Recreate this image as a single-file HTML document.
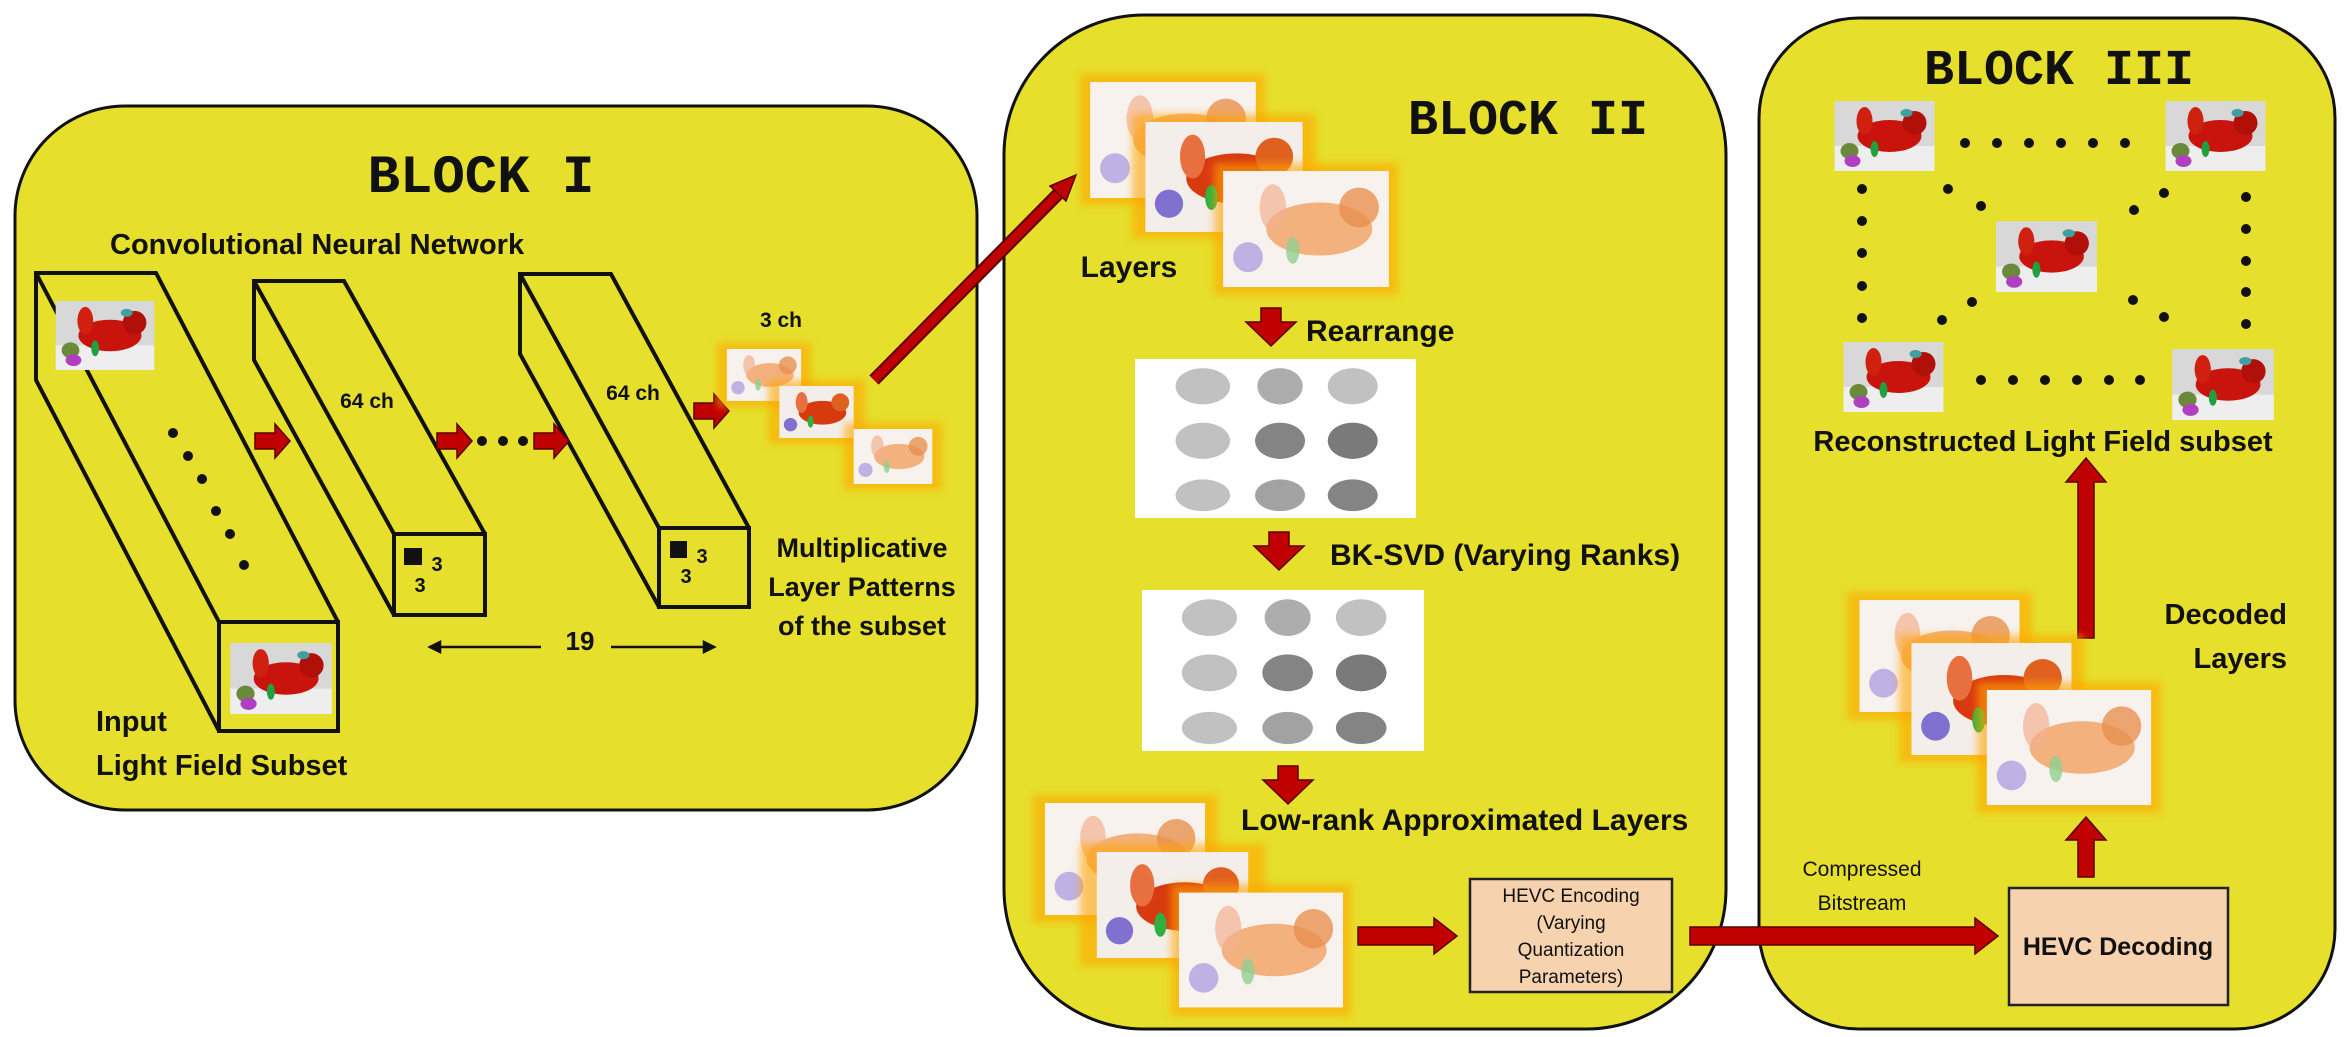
<!DOCTYPE html>
<html><head><meta charset="utf-8"><style>
html,body{margin:0;padding:0;background:#fff;}
svg{display:block;}
text{font-family:"Liberation Sans",sans-serif;font-weight:bold;fill:#111;}
text.n{font-weight:normal;}
.mono{font-family:"Liberation Mono",monospace;font-weight:bold;}
</style></head><body>
<svg width="2344" height="1037" viewBox="0 0 2344 1037" xmlns="http://www.w3.org/2000/svg">
<defs>
<symbol id="drag" viewBox="0 0 100 70">
<rect width="100" height="70" fill="#d8d8d8"/>
<rect y="45" width="100" height="25" fill="#eee"/>
<ellipse cx="55" cy="35" rx="32" ry="16" fill="#c8140c"/>
<ellipse cx="80" cy="22" rx="12" ry="12" fill="#b01008"/>
<ellipse cx="30" cy="20" rx="8" ry="14" fill="#d02010"/>
<ellipse cx="15" cy="50" rx="9" ry="8" fill="#6a8a3a"/>
<ellipse cx="18" cy="60" rx="8" ry="6" fill="#b040c0"/>
<ellipse cx="40" cy="48" rx="4" ry="8" fill="#20a040"/>
<ellipse cx="72" cy="12" rx="6" ry="4" fill="#40a0a0"/>
</symbol>
<symbol id="pale" viewBox="0 0 100 70">
<rect width="100" height="70" fill="#f7f2ee"/>
<ellipse cx="58" cy="35" rx="32" ry="16" fill="#f0a060" opacity="0.8"/>
<ellipse cx="82" cy="22" rx="12" ry="12" fill="#e89050" opacity="0.8"/>
<ellipse cx="30" cy="22" rx="8" ry="14" fill="#f3b090" opacity="0.7"/>
<ellipse cx="15" cy="52" rx="9" ry="9" fill="#b0a0e0" opacity="0.8"/>
<ellipse cx="42" cy="48" rx="4" ry="8" fill="#90d090" opacity="0.8"/>
</symbol>
<symbol id="mid" viewBox="0 0 100 70">
<rect width="100" height="70" fill="#f4eeea"/>
<ellipse cx="58" cy="36" rx="32" ry="16" fill="#d83a10"/>
<ellipse cx="82" cy="22" rx="12" ry="12" fill="#e06020"/>
<ellipse cx="30" cy="22" rx="8" ry="14" fill="#e87040"/>
<ellipse cx="15" cy="52" rx="9" ry="9" fill="#8070d0"/>
<ellipse cx="42" cy="48" rx="4" ry="8" fill="#30b040"/>
</symbol>
<symbol id="gray" viewBox="0 0 100 70">
<rect width="100" height="70" fill="#fff"/>
<g fill="#999" opacity="0.6">
<ellipse cx="18" cy="12" rx="12" ry="8"/><ellipse cx="52" cy="12" rx="10" ry="8" fill="#777"/><ellipse cx="84" cy="12" rx="11" ry="8"/>
<ellipse cx="18" cy="36" rx="12" ry="8"/><ellipse cx="52" cy="36" rx="11" ry="8" fill="#333"/><ellipse cx="84" cy="36" rx="11" ry="8" fill="#222"/>
<ellipse cx="18" cy="60" rx="12" ry="7"/><ellipse cx="52" cy="60" rx="11" ry="7" fill="#666"/><ellipse cx="84" cy="60" rx="11" ry="7" fill="#333"/>
</g>
</symbol>
<filter id="glow" x="-20%" y="-20%" width="140%" height="140%"><feGaussianBlur stdDeviation="4"/></filter>
<g id="rarrowR"><path d="M0,-8 H20 V-17 L35,0 L20,17 V8 H0 Z" fill="#c00000" stroke="#5a0000" stroke-width="1.5"/></g>
<g id="rarrowD"><path d="M-10,0 H10 V14 H25 L0,38 L-25,14 H-10 Z" fill="#c00000" stroke="#5a0000" stroke-width="1.5"/></g>
</defs>

<rect x="15" y="106" width="962" height="704" rx="110" fill="#e6df2b" stroke="#111" stroke-width="3"/>
<rect x="1004" y="15" width="722" height="1014" rx="140" fill="#e6df2b" stroke="#111" stroke-width="3"/>
<rect x="1759" y="18" width="576" height="1011" rx="100" fill="#e6df2b" stroke="#111" stroke-width="3"/>

<text x="481" y="192" class="mono" font-size="54" text-anchor="middle">BLOCK I</text>
<text x="1528" y="134" class="mono" font-size="50" text-anchor="middle">BLOCK II</text>
<text x="2059" y="84" class="mono" font-size="50" text-anchor="middle">BLOCK III</text>

<text x="110" y="254" font-size="29">Convolutional Neural Network</text>

<g fill="none" stroke="#111" stroke-width="4">
<polygon points="36,273 156,273 338,622 338,731 219,731 36,380"/>
<line x1="36" y1="273" x2="219" y2="622"/>
<rect x="219" y="622" width="119" height="109"/>
</g>
<use href="#drag" x="54" y="301" width="102" height="69"/>
<use href="#drag" x="230" y="643" width="102" height="71"/>
<g fill="#111"><circle cx="173" cy="433" r="5"/><circle cx="188" cy="456" r="5"/><circle cx="202" cy="479" r="5"/><circle cx="216" cy="511" r="5"/><circle cx="230" cy="534" r="5"/><circle cx="244" cy="565" r="5"/></g>

<g fill="none" stroke="#111" stroke-width="4">
<polygon points="254,281 344,281 485,534 485,615 394,615 254,360"/>
<line x1="254" y1="281" x2="394" y2="534"/>
<rect x="394" y="534" width="91" height="81"/>
</g>
<text x="367" y="408" font-size="21" text-anchor="middle">64 ch</text>
<rect x="404" y="548" width="18" height="17" fill="#111"/>
<text x="437" y="571" font-size="20" text-anchor="middle">3</text>
<text x="420" y="592" font-size="20" text-anchor="middle">3</text>

<g fill="none" stroke="#111" stroke-width="4">
<polygon points="520,274 611,274 749,528 749,607 659,607 520,354"/>
<line x1="520" y1="274" x2="659" y2="528"/>
<rect x="659" y="528" width="90" height="79"/>
</g>
<text x="633" y="400" font-size="21" text-anchor="middle">64 ch</text>
<rect x="670" y="541" width="17" height="17" fill="#111"/>
<text x="702" y="563" font-size="20" text-anchor="middle">3</text>
<text x="686" y="583" font-size="20" text-anchor="middle">3</text>

<use href="#rarrowR" x="255" y="441"/>
<use href="#rarrowR" x="437" y="441"/>
<g fill="#111"><circle cx="482" cy="441" r="5"/><circle cx="503" cy="441" r="5"/><circle cx="523" cy="441" r="5"/></g>
<use href="#rarrowR" x="534" y="441"/>
<use href="#rarrowR" x="694" y="411"/>

<text x="580" y="650" font-size="26" text-anchor="middle">19</text>
<g stroke="#111" stroke-width="2.5" fill="#111">
<line x1="434" y1="647" x2="541" y2="647"/><path d="M430,647 l10,-5 v10z"/>
<line x1="611" y1="647" x2="710" y2="647"/><path d="M714,647 l-10,-5 v10z"/>
</g>

<text x="781" y="327" font-size="21" text-anchor="middle">3 ch</text>
<g>
<rect x="717" y="343" width="94" height="64" fill="#ffa500" opacity="0.6" filter="url(#glow)"/>
<use href="#pale" x="723" y="349" width="82" height="52"/>
<rect x="768" y="380" width="97" height="64" fill="#ffa500" opacity="0.6" filter="url(#glow)"/>
<use href="#mid" x="774" y="386" width="85" height="52"/>
<rect x="844" y="423" width="98" height="67" fill="#ffa500" opacity="0.6" filter="url(#glow)"/>
<use href="#pale" x="850" y="429" width="86" height="55"/>
</g>
<text x="862" y="557" font-size="27" text-anchor="middle">Multiplicative</text>
<text x="862" y="596" font-size="27" text-anchor="middle">Layer Patterns</text>
<text x="862" y="635" font-size="27" text-anchor="middle">of the subset</text>

<text x="96" y="731" font-size="29">Input</text>
<text x="96" y="775" font-size="29">Light Field Subset</text>

<line x1="874" y1="380" x2="1062" y2="190" stroke="#5a0000" stroke-width="13"/>
<line x1="874" y1="380" x2="1062" y2="190" stroke="#c00000" stroke-width="9"/>
<path d="M1076,175 L1050,186 L1066,201 Z" fill="#c00000" stroke="#5a0000" stroke-width="1.5"/>

<g>
<rect x="1080" y="74" width="185" height="131" fill="#ffa500" opacity="0.6" filter="url(#glow)"/>
<use href="#pale" x="1088" y="82" width="170" height="116"/>
<rect x="1132" y="114" width="184" height="125" fill="#ffa500" opacity="0.6" filter="url(#glow)"/>
<use href="#mid" x="1140" y="122" width="168" height="110"/>
<rect x="1214" y="163" width="184" height="132" fill="#ffa500" opacity="0.6" filter="url(#glow)"/>
<use href="#pale" x="1222" y="171" width="168" height="116"/>
</g>
<text x="1129" y="277" font-size="30" text-anchor="middle">Layers</text>

<use href="#rarrowD" x="1271" y="308"/>
<text x="1306" y="341" font-size="30">Rearrange</text>
<rect x="1135" y="359" width="281" height="159" fill="#fff"/>
<use href="#gray" x="1135" y="359" width="281" height="159"/>

<use href="#rarrowD" x="1279" y="532"/>
<text x="1330" y="565" font-size="30">BK-SVD (Varying Ranks)</text>
<rect x="1142" y="590" width="282" height="161" fill="#fff"/>
<use href="#gray" x="1142" y="590" width="282" height="161"/>

<use href="#rarrowD" x="1288" y="766"/>
<text x="1241" y="830" font-size="30">Low-rank Approximated Layers</text>

<g>
<rect x="1033" y="795" width="184" height="128" fill="#ffa500" opacity="0.6" filter="url(#glow)"/>
<use href="#pale" x="1041" y="803" width="168" height="112"/>
<rect x="1080" y="844" width="185" height="122" fill="#ffa500" opacity="0.6" filter="url(#glow)"/>
<use href="#mid" x="1088" y="852" width="169" height="106"/>
<rect x="1171" y="884" width="180" height="132" fill="#ffa500" opacity="0.6" filter="url(#glow)"/>
<use href="#pale" x="1179" y="892" width="164" height="116"/>
</g>

<path d="M1358,927 H1434 V918 L1457,936 L1434,954 V945 H1358 Z" fill="#c00000" stroke="#5a0000" stroke-width="1.5"/>
<rect x="1470" y="879" width="202" height="113" fill="#f6d2ae" stroke="#222" stroke-width="2.5"/>
<text x="1571" y="902" font-size="19" text-anchor="middle" class="n">HEVC Encoding</text>
<text x="1571" y="929" font-size="19" text-anchor="middle" class="n">(Varying</text>
<text x="1571" y="956" font-size="19" text-anchor="middle" class="n">Quantization</text>
<text x="1571" y="983" font-size="19" text-anchor="middle" class="n">Parameters)</text>
<path d="M1690,927 H1975 V918 L1998,936 L1975,954 V945 H1690 Z" fill="#c00000" stroke="#5a0000" stroke-width="1.5"/>
<text x="1862" y="876" font-size="21" text-anchor="middle" class="n">Compressed</text>
<text x="1862" y="910" font-size="21" text-anchor="middle" class="n">Bitstream</text>

<rect x="2009" y="888" width="219" height="117" fill="#f6d2ae" stroke="#222" stroke-width="2.5"/>
<text x="2118" y="955" font-size="25" text-anchor="middle">HEVC Decoding</text>

<path d="M2078,877 V840 H2066 L2086,817 L2106,840 H2094 V877 Z" fill="#c00000" stroke="#5a0000" stroke-width="1.5"/>
<path d="M2078,638 V482 H2066 L2086,458 L2106,482 H2094 V638 Z" fill="#c00000" stroke="#5a0000" stroke-width="1.5"/>

<g>
<rect x="1847" y="592" width="185" height="128" fill="#ffa500" opacity="0.6" filter="url(#glow)"/>
<use href="#pale" x="1855" y="600" width="169" height="112"/>
<rect x="1899" y="635" width="185" height="128" fill="#ffa500" opacity="0.6" filter="url(#glow)"/>
<use href="#mid" x="1907" y="643" width="169" height="112"/>
<rect x="1977" y="682" width="184" height="131" fill="#ffa500" opacity="0.6" filter="url(#glow)"/>
<use href="#pale" x="1985" y="690" width="168" height="115"/>
</g>
<text x="2287" y="624" font-size="29" text-anchor="end">Decoded</text>
<text x="2287" y="668" font-size="29" text-anchor="end">Layers</text>

<text x="2043" y="451" font-size="29" text-anchor="middle">Reconstructed Light Field subset</text>

<use href="#drag" x="1834" y="101" width="101" height="70"/>
<use href="#drag" x="2165" y="101" width="101" height="70"/>
<use href="#drag" x="1996" y="221" width="101" height="71"/>
<use href="#drag" x="1843" y="342" width="101" height="70"/>
<use href="#drag" x="2172" y="349" width="102" height="71"/>
<g fill="#111">
<circle cx="1965" cy="143" r="5"/><circle cx="1997" cy="143" r="5"/><circle cx="2029" cy="143" r="5"/><circle cx="2061" cy="143" r="5"/><circle cx="2093" cy="143" r="5"/><circle cx="2125" cy="143" r="5"/>
<circle cx="1981" cy="380" r="5"/><circle cx="2013" cy="380" r="5"/><circle cx="2045" cy="380" r="5"/><circle cx="2077" cy="380" r="5"/><circle cx="2109" cy="380" r="5"/><circle cx="2140" cy="380" r="5"/>
<circle cx="1862" cy="189" r="5"/><circle cx="1862" cy="221" r="5"/><circle cx="1862" cy="253" r="5"/><circle cx="1862" cy="286" r="5"/><circle cx="1862" cy="318" r="5"/>
<circle cx="2246" cy="197" r="5"/><circle cx="2246" cy="229" r="5"/><circle cx="2246" cy="261" r="5"/><circle cx="2246" cy="292" r="5"/><circle cx="2246" cy="324" r="5"/>
<circle cx="1948" cy="189" r="5"/><circle cx="1981" cy="206" r="5"/><circle cx="2164" cy="193" r="5"/><circle cx="2134" cy="210" r="5"/>
<circle cx="1972" cy="302" r="5"/><circle cx="1942" cy="320" r="5"/><circle cx="2133" cy="300" r="5"/><circle cx="2164" cy="317" r="5"/>
</g>
</svg>
</body></html>
